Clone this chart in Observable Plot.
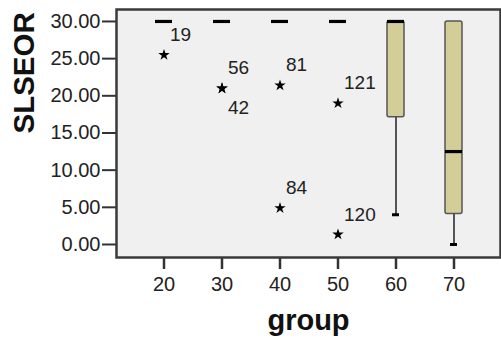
<!DOCTYPE html>
<html><head><meta charset="utf-8">
<script src="https://cdn.jsdelivr.net/npm/d3@7"></script>
<script src="https://cdn.jsdelivr.net/npm/@observablehq/plot@0.6"></script>
<style>body{margin:0;background:#fff;}</style>
</head><body><div id="chart"></div>
<script>
const groups = [20, 30, 40, 50, 60, 70];
const q1 = [30, 30, 30, 30, 17.1, 4.1];
const median = [30, 30, 30, 30, 30, 12.5];
const q3 = [30, 30, 30, 30, 30, 30];
const whiskerLow = [30, 30, 30, 30, 4.0, 0];
const whiskerHigh = [30, 30, 30, 30, 30, 30];
const outlierGroup = [20, 30, 30, 40, 40, 50, 50];
const outlierValue = [25.5, 21.0, 21.0, 21.4, 4.9, 19.0, 1.35];
const outlierLabel = ["19", "56", "42", "81", "84", "121", "120"];
const yTicks = [0, 5, 10, 15, 20, 25, 30];
const xTitle = "group";
const yTitle = "SLSEOR";

const boxes = groups.map((g, i) => ({group: g, q1: q1[i], median: median[i], q3: q3[i], low: whiskerLow[i], high: whiskerHigh[i]}));
const outliers = outlierGroup.map((g, i) => ({
  group: g, value: outlierValue[i], label: outlierLabel[i],
  dup: outlierGroup.slice(0, i).some((h, j) => h === g && outlierValue[j] === outlierValue[i])
}));

const font = "'Liberation Sans', Arial, sans-serif";
const chart = Plot.plot({
  width: 501, height: 354,
  marginLeft: 116, marginRight: 1, marginTop: 9, marginBottom: 97,
  style: {fontFamily: font, color: "#222", background: "#fff"},
  x: {type: "band", domain: groups, paddingInner: 0.714, paddingOuter: 0.667, axis: null},
  y: {domain: [-1.75, 31.61], axis: null},
  marks: [
    Plot.frame({fill: "#f0f0f0", stroke: null}),
    Plot.ruleX(boxes, {x: "group", y1: "low", y2: "q1", stroke: "#000", strokeWidth: 1.3}),
    Plot.ruleX(boxes, {x: "group", y1: "q3", y2: "high", stroke: "#000", strokeWidth: 1.3}),
    Plot.tickY(boxes, {filter: d => d.low < d.q1, x: "group", y: "low", stroke: "#000", strokeWidth: 3, insetLeft: 5, insetRight: 5}),
    Plot.tickY(boxes, {filter: d => d.high > d.q3, x: "group", y: "high", stroke: "#000", strokeWidth: 3, insetLeft: 5, insetRight: 5}),
    Plot.barY(boxes, {filter: d => d.q3 > d.q1, x: "group", y1: "q1", y2: "q3", fill: "#d3ce98", stroke: "#555", strokeWidth: 1.5, rx: 2}),
    Plot.tickY(boxes, {x: "group", y: "median", stroke: "#000", strokeWidth: 3.2}),
    Plot.dot(outliers, {x: "group", y: "value", symbol: "star", r: 3.6, fill: "#000", stroke: null}),
    Plot.text(outliers, {filter: d => !d.dup, x: "group", y: "value", text: "label", textAnchor: "start", dx: 6, dy: -20, fontSize: 19, fill: "#222"}),
    Plot.text(outliers, {filter: d => d.dup, x: "group", y: "value", text: "label", textAnchor: "start", dx: 6, dy: 20, fontSize: 19, fill: "#222"}),
    Plot.axisY({ticks: yTicks, tickFormat: d => d.toFixed(2), fontSize: 20, tickSize: 14, tickPadding: 2, strokeWidth: 2, stroke: "#333", fill: "#222", label: null}),
    Plot.axisX({tickSize: 12, tickPadding: 7, fontSize: 20, strokeWidth: 2.5, stroke: "#333", fill: "#222", label: null}),
    Plot.frame({stroke: "#3a3a3a", strokeWidth: 2.5}),
    Plot.text([yTitle], {frameAnchor: "left", dx: -92, rotate: -90, fontSize: 29.5, fontWeight: "bold", fill: "#111"}),
    Plot.text([xTitle], {frameAnchor: "bottom", dy: 72, fontSize: 29, fontWeight: "bold", fill: "#111"})
  ]
});
document.getElementById("chart").appendChild(chart);
</script>
</body></html>
